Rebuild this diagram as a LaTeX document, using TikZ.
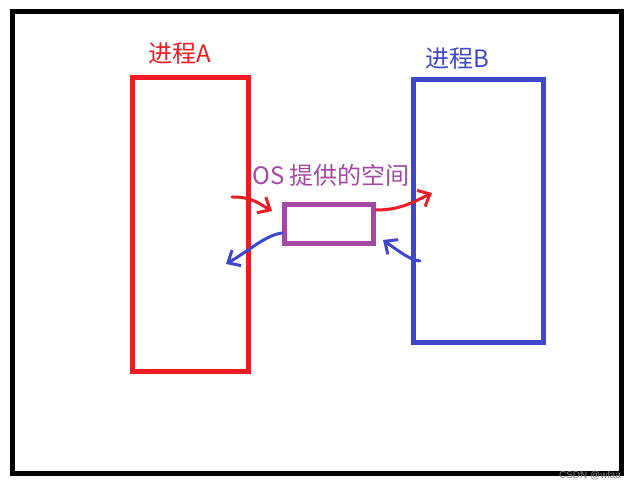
\documentclass[tikz,border=0pt]{standalone}
\usepackage{fontspec}
\newfontfamily\cjk{Noto Sans CJK SC}
\newfontfamily\wm{Liberation Sans}
\usetikzlibrary{arrows.meta}
\definecolor{pred}{HTML}{ED1C24}
\definecolor{pblue}{HTML}{3F48CC}
\definecolor{ppurple}{HTML}{A349A4}
\tikzset{
  boxA/.style={draw=pred,line width=2.5pt,inner sep=0pt},
  boxB/.style={draw=pblue,line width=2.5pt,inner sep=0pt},
  boxOS/.style={draw=ppurple,line width=2.5pt,inner sep=0pt},
  lbl/.style={font=\cjk\fontsize{12pt}{14pt}\selectfont,inner sep=0pt},
  hand/.style={line width=1.5pt,line cap=round,line join=round,-{Straight Barb[length=5pt,width=9pt,line width=1.5pt]}}
}
\begin{document}
\begin{tikzpicture}[x=0.5pt,y=-0.5pt]
\useasboundingbox (0,0) rectangle (634,490);
\fill[white] (0,0) rectangle (634,490);
\node[draw=black,line width=2.5pt,inner sep=0pt,minimum width=304.5pt,minimum height=231pt] (frame) at (317,242.5) {};
\node[boxA,minimum width=58pt,minimum height=147pt] (A) at (190.5,224.5) {};
\node[boxB,minimum width=65pt,minimum height=131.25pt] (B) at (478.5,211.25) {};
\node[boxOS,minimum width=44.5pt,minimum height=19.5pt] (OS) at (329,224) {};
\node[lbl,text=pred] (la) at (180,54) {进程A};
\node[lbl,text=pblue] (lb) at (457,59) {进程B};
\node[lbl,text=ppurple] (los) at (331,175) {OS 提供的空间};
\node[font=\wm\fontsize{5pt}{6pt}\selectfont,text=gray,inner sep=0pt] (wmk) at (590,476) {CSDN @wlaa};
% arrow ends
\coordinate (r1s) at (232,197);
\coordinate (r1e) at (272,211);
\coordinate (r2e) at (432,193);
\coordinate (b1e) at (226,264);
\coordinate (b2s) at (420,261);
\coordinate (b2e) at (383,240);
\draw[hand,draw=pred] (r1s) .. controls (252,197) and (258,203) .. (r1e);
\draw[hand,draw=pred] (OS.east |- 0,210) .. controls (398,210) and (410,204) .. (r2e);
\draw[hand,draw=pblue] (OS.west |- 0,233) .. controls (266,235) and (250,250) .. (b1e);
\draw[hand,draw=pblue] (b2s) .. controls (410,260) and (400,252) .. (b2e);
\end{tikzpicture}
\end{document}
